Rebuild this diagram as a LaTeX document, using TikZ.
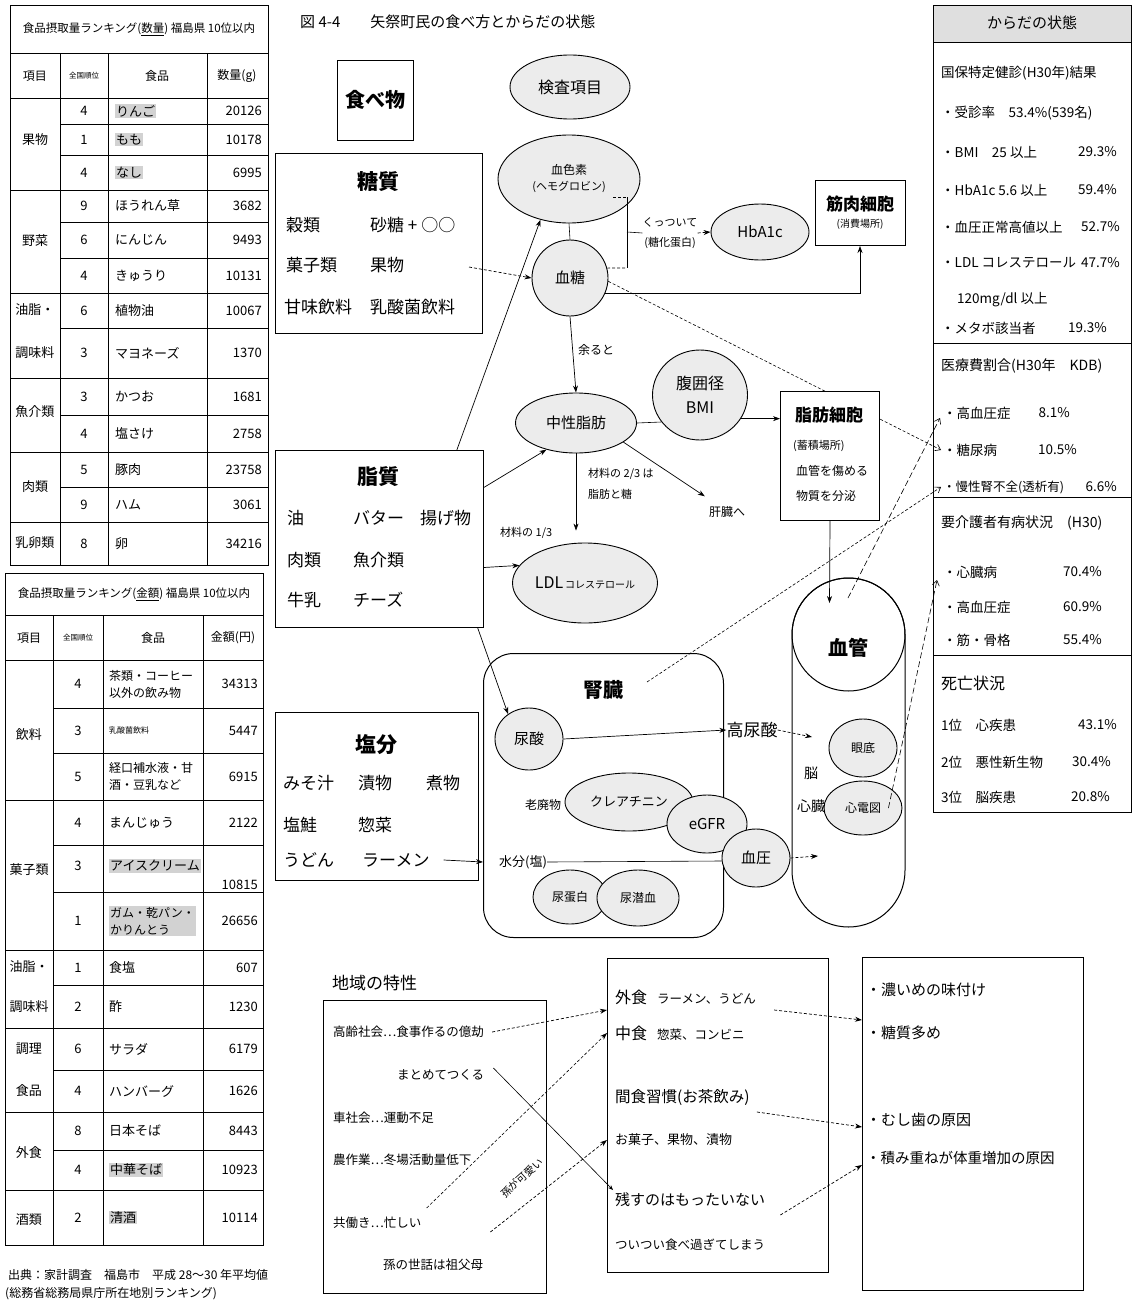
\documentclass[tikz,border=0pt]{standalone}
\usepackage{fontspec}
\setmainfont{Noto Sans CJK JP}
\usetikzlibrary{shapes.geometric,arrows.meta,calc}
\newcommand\myfs[1]{\fontsize{#1}{#1}\selectfont}
\begin{document}
\begin{tikzpicture}[x=1pt,y=-1pt,
  every node/.style={inner sep=0pt},
  t/.style={font=\myfs{#1}},
  tb/.style={font=\myfs{#1}\bfseries},
  t2/.style={font=\fontsize{#1}{17}\selectfont},
  ell/.style={ellipse, draw, line width=0.9pt, fill=gray!15, align=center},
  box/.style={draw, line width=1pt, fill=white},
  arr/.style={-{Stealth[length=7pt,width=5pt]}, line width=0.7pt},
  darr/.style={arr, dash pattern=on 3pt off 2pt},
  dbarb/.style={-{Straight Barb[length=5pt,width=7pt]}, line width=0.6pt, dash pattern=on 3pt off 2pt},
  ldbarb/.style={-{Straight Barb[length=5pt,width=7pt]}, line width=0.6pt, dash pattern=on 6pt off 3pt},
  tl/.style={line width=1pt},
  tn/.style={line width=0.6pt},
  hl/.style={fill=gray!35, inner sep=1pt},
  nh/.style={}]
\fill[white] (0,0) rectangle (1133,1309);
\useasboundingbox (0,0) rectangle (1133,1309);

% ================= TABLE 1 =================
\draw[tl] (10,5) rectangle (268,565);
\draw[tl] (10,53) -- (268,53);
\foreach \y in {98,190,293,378,452,522} \draw[tl] (10,\y) -- (268,\y);
\foreach \y in {124,155,222,258,328,415,487} \draw[tn] (60,\y) -- (268,\y);
\foreach \x in {60,108,207} \draw[tn] (\x,53) -- (\x,565);
\node[t=11.5] (t1title) at (139,29) {食品摂取量ランキング(\underline{数量}) 福島県 10位以内};
\node[t=12] (t1h1) at (35,76) {項目};
\node[t=7.5] (t1h2) at (84,76) {全国順位};
\node[t=12] (t1h3) at (157,76) {食品};
\node[t=12] (t1h4) at (237,76) {数量(g)};
\foreach \yc/\r/\f/\v/\s [count=\i] in {
 111/4/りんご/20126/hl, 139.5/1/もも/10178/hl, 172.5/4/なし/6995/hl,
 206/9/ほうれん草/3682/nh, 240/6/にんじん/9493/nh, 275.5/4/きゅうり/10131/nh,
 310.5/6/植物油/10067/nh, 353/3/マヨネーズ/1370/nh, 396.5/3/かつお/1681/nh,
 433.5/4/塩さけ/2758/nh, 469.5/5/豚肉/23758/nh, 504.5/9/ハム/3061/nh, 543.5/8/卵/34216/nh}
{
 \node[t=13] (a\i r) at (84,\yc) {\r};
 \node[t=13, anchor=west, \s] (a\i f) at (115,\yc) {\f};
 \node[t=13, anchor=east] (a\i v) at (262,\yc) {\v};
}
\foreach \yc/\g [count=\i] in {140/果物, 241/野菜, 310/油脂・, 353/調味料, 412/魚介類, 487/肉類, 543/乳卵類}
 \node[t=13] (ag\i) at (35,\yc) {\g};

% ================= TABLE 2 =================
\draw[tl] (5,573) rectangle (263,1245);
\draw[tl] (5,615) -- (263,615);
\foreach \y in {660,800,950,1028,1112,1190} \draw[tl] (5,\y) -- (263,\y);
\foreach \y in {708,753,845,892,985,1070,1150} \draw[tn] (53,\y) -- (263,\y);
\foreach \x in {53,103,203} \draw[tn] (\x,615) -- (\x,1245);
\node[t=11.5] (t2title) at (134,594) {食品摂取量ランキング(\underline{金額}) 福島県 10位以内};
\node[t=12] (t2h1) at (29,638) {項目};
\node[t=7.5] (t2h2) at (78,638) {全国順位};
\node[t=12] (t2h3) at (153,638) {食品};
\node[t=12] (t2h4) at (233,638) {金額(円)};
\foreach \yc/\vy/\r/\f/\v/\s/\fsz [count=\i] in {
 684/684/4/{茶類・コーヒー\\以外の飲み物}/34313/nh/12,
 730.5/730.5/3/乳酸菌飲料/5447/nh/8,
 776.5/776.5/5/{経口補水液・甘\\酒・豆乳など}/6915/nh/12,
 822.5/822.5/4/まんじゅう/2122/nh/13,
 866/885/3/アイスクリーム/10815/hl/13,
 921/921/1/{ガム・乾パン・\\かりんとう}/26656/hl/12,
 967.5/967.5/1/食塩/607/nh/13,
 1006.5/1006.5/2/酢/1230/nh/13,
 1049/1049/6/サラダ/6179/nh/13,
 1091/1091/4/ハンバーグ/1626/nh/13,
 1131/1131/8/日本そば/8443/nh/13,
 1170/1170/4/中華そば/10923/hl/13,
 1217.5/1217.5/2/清酒/10114/hl/13}
{
 \node[t=13] (b\i r) at (78,\yc) {\r};
 \node[t2=\fsz, anchor=west, align=left, \s] (b\i f) at (109,\yc) {\f};
 \node[t=13, anchor=east] (b\i v) at (258,\vy) {\v};
}
\foreach \yc/\g [count=\i] in {735/飲料, 870/菓子類, 967/油脂・, 1007/調味料, 1049/調理, 1091/食品, 1153/外食, 1220/酒類}
 \node[t=13] (bg\i) at (29,\yc) {\g};
\node[t=12, anchor=west] (src1) at (8,1275) {出典：家計調査　福島市　平成 28～30 年平均値};
\node[t=12, anchor=west] (src2) at (5,1294) {(総務省総務局県庁所在地別ランキング)};

% ================= MIDDLE: FOOD BOXES =================
\node[t=15, anchor=west] (title) at (300,22) {図 4-4\quad\quad 矢祭町民の食べ方とからだの状態};
\node[box, minimum width=76, minimum height=80, tb=20] (tabemono) at (375,100) {食べ物};

\node[box, minimum width=207, minimum height=180, anchor=north west] (tsbox) at (275,153) {};
\node[tb=21] (ts) at (378,182) {糖質};
\node[t=17, anchor=west] (kokurui) at (286,225) {穀類};
\node[t=17, anchor=west] (sato) at (370,225) {砂糖 + ○○};
\node[t=17, anchor=west] (kashi) at (286,265) {菓子類};
\node[t=17, anchor=west] (kudamono) at (370,265) {果物};
\node[t=17, anchor=west] (kanmi) at (284,307) {甘味飲料};
\node[t=17, anchor=west] (nyusan) at (370,307) {乳酸菌飲料};

\node[box, minimum width=208, minimum height=177, anchor=north west] (ssbox) at (275,450) {};
\node[tb=21] (ss) at (378,477) {脂質};
\node[t=17, anchor=west] (abura) at (287,518) {油};
\node[t=17, anchor=west] (butter) at (353,518) {バター};
\node[t=17, anchor=west] (agemono) at (420,518) {揚げ物};
\node[t=17, anchor=west] (nikurui) at (287,560) {肉類};
\node[t=17, anchor=west] (gyokai) at (353,560) {魚介類};
\node[t=17, anchor=west] (gyunyu) at (287,600) {牛乳};
\node[t=17, anchor=west] (cheese) at (353,600) {チーズ};

\node[box, minimum width=203, minimum height=168, anchor=north west] (enbox) at (275,712) {};
\node[tb=21] (en) at (376,745) {塩分};
\node[t=17, anchor=west] (misoshiru) at (283,783) {みそ汁};
\node[t=17, anchor=west] (tsukemono) at (358,783) {漬物};
\node[t=17, anchor=west] (nimono) at (426,783) {煮物};
\node[t=17, anchor=west] (shiozake) at (283,825) {塩鮭};
\node[t=17, anchor=west] (sozai) at (358,825) {惣菜};
\node[t=17, anchor=west] (udon) at (283,860) {うどん};
\node[t=17, anchor=west] (ramen) at (362,860) {ラーメン};

% ================= MIDDLE: TESTS =================
\node[ell, minimum width=120, minimum height=64, t=16] (kensa) at (570,87) {検査項目};
\node[ell, minimum width=142, minimum height=88] (hb) at (569,179) {{\myfs{12}血色素}\\[4pt]{\myfs{11}(ヘモグロビン)}};
\node[ell, minimum width=76, minimum height=76, t=15] (bs) at (570,278) {血糖};
\node[t=11, align=center, font=\fontsize{11}{20}\selectfont] (kuttsuite) at (670,233) {くっついて\\(糖化蛋白)};
\node[ell, minimum width=98, minimum height=56, t=15] (hba) at (760,232) {HbA1c};
\node[box, minimum width=90, minimum height=65, align=center] (kin) at (860,213) {{\myfs{17}\bfseries 筋肉細胞}\\[5pt]{\myfs{10}(消費場所)}};

\node[t=12, anchor=west] (amaru) at (578,350) {余ると};
\node[ell, minimum width=121, minimum height=60, t=15] (tg) at (576,423) {中性脂肪};
\node[ell, minimum width=95, minimum height=90, t=16] (waist) at (700,395) {腹囲径\\[8pt]BMI};
\node[t=12] (liver) at (727,512) {肝臓へ};
\node[anchor=west, align=left, font=\fontsize{11}{21}\selectfont] (zairyo23) at (588,484) {材料の 2/3 は\\脂肪と糖};
\node[t=11, anchor=west] (zairyo13) at (500,533) {材料の 1/3};
\node[ell, minimum width=145, minimum height=80] (ldl) at (585,583) {{\myfs{16}LDL}\,{\myfs{10}コレステロール}};

% kidney
\node[draw, line width=1pt, rounded corners=30pt, minimum width=240, minimum height=284, anchor=north west] (kidney) at (483,653) {};
\node[tb=20] (jz) at (603,690) {腎臓};
\node[ell, minimum width=68, minimum height=62, t=15] (uric) at (529,739) {尿酸};
\node[t=17] (kounyou) at (752,730) {高尿酸};
\node[ell, minimum width=128, minimum height=58, t=13] (cre) at (629,802) {クレアチニン};
\node[t=12] (rohai) at (543,805) {老廃物};
\node[ell, minimum width=80, minimum height=58, t=15] (egfr) at (707,824) {eGFR};
\node[ell, minimum width=68, minimum height=58, t=15] (bp) at (756,858) {血圧};
\node[t=13] (suibun) at (523,862) {水分(塩)};
\node[ell, minimum width=74, minimum height=54, t=12] (up) at (570,897) {尿蛋白};
\node[ell, minimum width=82, minimum height=56, t=12] (uob) at (638,898) {尿潜血};

% vessel
\draw[line width=1pt, fill=white, rounded corners=56.5pt] (792,578) rectangle (905,927);
\node[circle, draw, line width=1pt, minimum size=113] (vessel) at (848.5,634.5) {};
\node[tb=20] (kekkan) at (848,648) {血管};
\node[ell, minimum width=68, minimum height=58, t=12] (ganzoko) at (863,748) {眼底};
\node[ell, minimum width=78, minimum height=54, t=12] (ecg) at (863,808) {心電図};
\node[t=14] (no) at (811,773) {脳};
\node[t=14] (shinzo) at (811,806) {心臓};
\coordinate (vin1) at (812,737);
\coordinate (vin2) at (818,856);
\coordinate (vtop) at (829.5,603);
\coordinate (vst) at (848,598);
\coordinate (kst) at (647,682);

% ================= RIGHT PANEL =================
\fill[gray!25] (933,5) rectangle (1131,42);
\node[draw, line width=1pt, minimum width=198, minimum height=807, anchor=north west] (rp) at (933,5) {};
\foreach \y in {42,343,497,655} \draw[tl] (rp.west |- 0,\y) -- (rp.east |- 0,\y);
\node[t=15] (rptitle) at (1032,23) {からだの状態};
\node[t=13.5, anchor=west] (r1) at (941,73) {国保特定健診(H30年)結果};
\node[t=13.5, anchor=west] (r2) at (941,113) {・受診率　53.4\%(539名)};
\node[t=13.5, anchor=west] (r3) at (941,152) {・BMI　25 以上};
\node[t=13.5, anchor=east] (r3v) at (1117,152) {29.3\%};
\node[t=13.5, anchor=west] (r4) at (941,190) {・HbA1c 5.6 以上};
\node[t=13.5, anchor=east] (r4v) at (1117,190) {59.4\%};
\node[t=13.5, anchor=west] (r5) at (941,227) {・血圧正常高値以上};
\node[t=13.5, anchor=east] (r5v) at (1120,227) {52.7\%};
\node[t=13.5, anchor=west] (r6) at (941,263) {・LDL コレステロール};
\node[t=13.5, anchor=east] (r6v) at (1120,263) {47.7\%};
\node[t=13.5, anchor=west] (r7) at (957,300) {120mg/dl 以上};
\node[t=13.5, anchor=west] (r8) at (941,328) {・メタボ該当者};
\node[t=13.5, anchor=east] (r8v) at (1107,328) {19.3\%};
\node[t=14, anchor=west] (r9) at (941,366) {医療費割合(H30年　KDB)};
\node[t=13.5, anchor=west] (rkoketsu) at (943,413) {・高血圧症};
\node[t=13.5, anchor=east] (rkoketsuv) at (1070,413) {8.1\%};
\node[t=13.5, anchor=west] (rtonyo) at (943,450) {・糖尿病};
\node[t=13.5, anchor=east] (rtonyov) at (1077,450) {10.5\%};
\node[t=12.5, anchor=west] (rjin) at (943,487) {・慢性腎不全(透析有)};
\node[t=13.5, anchor=east] (rjinv) at (1117,487) {6.6\%};
\node[t=14, anchor=west] (r10) at (941,523) {要介護者有病状況　(H30)};
\node[t=13.5, anchor=west] (rshinzo) at (943,572) {・心臓病};
\node[t=13.5, anchor=east] (rshinzov) at (1102,572) {70.4\%};
\node[t=13.5, anchor=west] (rkoketsu2) at (943,607) {・高血圧症};
\node[t=13.5, anchor=east] (rkoketsu2v) at (1102,607) {60.9\%};
\node[t=13.5, anchor=west] (rkin) at (943,640) {・筋・骨格};
\node[t=13.5, anchor=east] (rkinv) at (1102,640) {55.4\%};
\node[t=16, anchor=west] (r11) at (941,683) {死亡状況};
\node[t=13.5, anchor=west] (rd1) at (941,725) {1位　心疾患};
\node[t=13.5, anchor=east] (rd1v) at (1117,725) {43.1\%};
\node[t=13.5, anchor=west] (rd2) at (941,762) {2位　悪性新生物};
\node[t=13.5, anchor=east] (rd2v) at (1111,762) {30.4\%};
\node[t=13.5, anchor=west] (rd3) at (941,797) {3位　脳疾患};
\node[t=13.5, anchor=east] (rd3v) at (1110,797) {20.8\%};

% ================= CONNECTORS (middle) =================
\draw[darr] ($(tsbox.north east)!0.63!(tsbox.south east)+(-14,0)$) -- (bs.west);
\draw[tn] (hb.south) -- (bs.north);
\coordinate (brt) at (627,197);
\coordinate (brb) at (627,268);
\coordinate (brm) at (627,232);
\draw[tn, dash pattern=on 3pt off 2pt] ([xshift=44pt,yshift=-18pt]hb.center) -- (brt);
\draw[tn] (brt) -- (brb);
\draw[tn, dash pattern=on 3pt off 2pt] (bs.15) -- (brb);
\draw[tn] (brm) -- (kuttsuite.west);
\draw[darr] (kuttsuite.east) -- (hba.west);
\draw[arr] (bs.-23) -- (kin.south |- bs.-23) -- (kin.south);
\draw[arr] (bs.south) -- (tg.north);
\draw[tn] (tg.east) -- (waist.215);
\draw[arr] (tg.-22) -- ([xshift=-4pt,yshift=10pt]liver.north west);
\draw[arr] (tg.south) -- ($(tg.south |- ldl.north)+(0,-12)$);
\draw[arr] ($(ssbox.north west)!0.87!(ssbox.north east)$) -- (hb.235);
\draw[arr] ($(ssbox.north east)!0.21!(ssbox.south east)$) -- (tg.222);
\draw[arr] ($(ssbox.north east)!0.66!(ssbox.south east)$) -- (ldl.165);
\draw[arr] ($(ssbox.south west)!0.97!(ssbox.south east)$) -- (uric.130);
\draw[arr] ([xshift=14pt]ramen.east) -- (kidney.west |- suibun);
\draw[arr] (uric.east) -- (kounyou.west);
\draw[darr] (kounyou.east) -- (vin1);
\draw[tn] (suibun.east) -- (bp.185);
\draw[darr] (bp.east) -- (vin2);

% long dashed lines to right panel
\draw[dbarb] (bs.-5) -- ([xshift=-2pt]rtonyo.west);
\draw[dbarb] (kst) -- ([xshift=-2pt]rjin.west);
\draw[ldbarb] (vst) -- ([xshift=-3pt,yshift=-5pt]rkoketsu.west);
\draw[ldbarb] ([xshift=-14pt]ecg.east) -- ([xshift=-6pt,yshift=-8pt]rshinzo.west);

% fat cell box (over the dashed line)
\node[box, minimum width=99, minimum height=129, anchor=north west] (fat) at (780,391) {};
\node[tb=17] (fatt) at (829,415) {脂肪細胞};
\node[t=11, anchor=west] (fat1) at (793,446) {(蓄積場所)};
\node[t=12, anchor=west] (fat2) at (796,471) {血管を傷める};
\node[t=12, anchor=west] (fat3) at (796,496) {物質を分泌};
\draw[arr] (waist.-30) -- (fat.west |- waist.-30);
\draw[arr] (fat.south) -- (vtop);

% ================= BOTTOM =================
\draw[double, double distance=1.6pt, line width=0.6pt] (300,952) rectangle (1127,1298);
\node[t=17, anchor=west] (chiiki) at (332,983) {地域の特性};
\node[box, minimum width=223, minimum height=293, anchor=north west] (cb1) at (323,1000) {};
\node[t=12.5, anchor=west] (koreika) at (333,1032) {高齢社会…食事作るの億劫};
\node[t=12.5, anchor=west] (matomete) at (397,1075) {まとめてつくる};
\node[t=12.5, anchor=west] (kuruma) at (333,1118) {車社会…運動不足};
\node[t=12.5, anchor=west] (nosagyo) at (333,1160) {農作業…冬場活動量低下};
\node[t=12.5, anchor=west] (tomo) at (333,1223) {共働き…忙しい};
\node[t=12.5, anchor=west] (mago) at (383,1265) {孫の世話は祖父母};

\node[box, minimum width=221, minimum height=314, anchor=north west] (cb2) at (607,958) {};
\node[anchor=west] (gaishoku) at (615,997) {{\myfs{16}外食}\quad{\myfs{12.5}ラーメン、うどん}};
\node[anchor=west] (nakashoku) at (615,1033) {{\myfs{16}中食}\quad{\myfs{12.5}惣菜、コンビニ}};
\node[t=15.5, anchor=west] (kanshoku) at (615,1097) {間食習慣(お茶飲み)};
\node[t=13, anchor=west] (okashi) at (615,1140) {お菓子、果物、漬物};
\node[t=15, anchor=west] (nokosu) at (615,1200) {残すのはもったいない};
\node[t=12.5, anchor=west] (tsuitsui) at (615,1245) {ついつい食べ過ぎてしまう};

\node[box, minimum width=221, minimum height=333, anchor=north west] (cb3) at (862,957) {};
\node[t=15, anchor=west] (koime) at (866,990) {・濃いめの味付け};
\node[t=15, anchor=west] (tsome) at (866,1033) {・糖質多め};
\node[t=15, anchor=west] (mushiba) at (866,1120) {・むし歯の原因};
\node[t=14.5, anchor=west] (tsumi) at (866,1158) {・積み重ねが体重増加の原因};

\draw[darr] ([xshift=8pt]koreika.east) -- ([xshift=-8pt,yshift=-13pt]gaishoku.west);
\draw[tn, -{Stealth[length=5pt,width=4pt]}] ([xshift=9pt,yshift=7pt]matomete.east) -- ([xshift=-2pt,yshift=10pt]nokosu.west);
\draw[tn, dash pattern=on 3pt off 2pt, -{Stealth[length=7pt,width=5pt]}] ([xshift=5pt,yshift=15pt]tomo.east) -- ([xshift=-8pt]nakashoku.west);
\draw[darr] ([xshift=7pt,yshift=33pt]mago.east) -- ([xshift=-8pt]okashi.west);
\node[t=10.5, rotate=42] (kawaii) at (522,1178) {孫が可愛い};
\draw[darr] ([xshift=18pt,yshift=-13pt]gaishoku.east) -- ([xshift=-4pt,yshift=13pt]tsome.west);
\draw[darr] ([xshift=7pt,yshift=-15pt]kanshoku.east) -- ([xshift=-4pt,yshift=-7pt]mushiba.west);
\draw[darr] ([xshift=15pt,yshift=-15pt]nokosu.east) -- ([xshift=-4pt,yshift=-7pt]tsumi.west);
\end{tikzpicture}
\end{document}
